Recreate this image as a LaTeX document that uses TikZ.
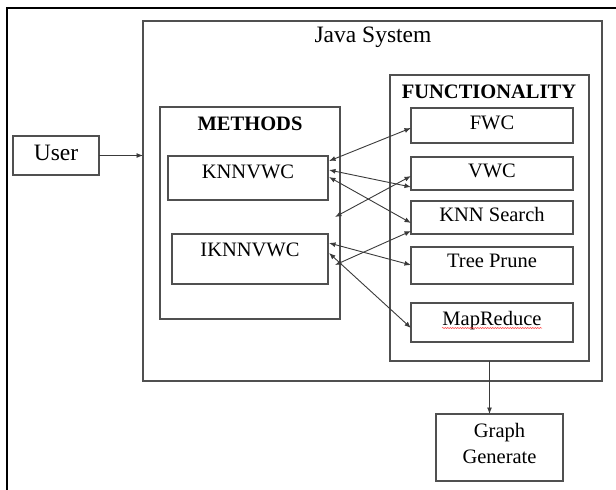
\documentclass[tikz,border=0pt]{standalone}
\usepackage{fontspec}
\setmainfont{Liberation Serif}
\usetikzlibrary{arrows.meta,decorations.pathmorphing}
\definecolor{boxgray}{HTML}{505050}
\definecolor{arrgray}{HTML}{3A3A3A}
\begin{document}
\begin{tikzpicture}[x=1pt,y=-1pt,
  box/.style={draw=boxgray, line width=1.2pt, inner sep=0pt, outer sep=0pt},
  lbl/.style={anchor=base, inner sep=0pt, text=black, font=\fontsize{20.5}{24}\selectfont},
  bigl/.style={lbl, font=\fontsize{23.5}{28}\selectfont},
  boldl/.style={lbl, font=\fontsize{20.5}{24}\selectfont\bfseries},
  conn/.style={draw=arrgray, line width=0.9pt, {Latex[length=6.5pt,width=5pt]}-{Latex[length=6.5pt,width=5pt]}},
  oneway/.style={draw=arrgray, line width=0.9pt, -{Latex[length=6.5pt,width=5pt]}}]
\useasboundingbox (0,0) rectangle (616,490);
% outer frame
\draw[line width=2pt, line cap=rect] (7,490) -- (7,8) -- (616,8);
% boxes
\node[box, minimum width=459pt, minimum height=360pt] (java) at (372.5,201) {};
\node[box, minimum width=180pt, minimum height=212pt] (methods) at (250,213) {};
\node[box, minimum width=160pt, minimum height=44pt] (knn) at (248,178) {};
\node[box, minimum width=156pt, minimum height=50pt] (iknn) at (250,259) {};
\node[box, minimum width=199pt, minimum height=286pt] (func) at (489.5,218) {};
\node[box, minimum width=162pt, minimum height=35pt] (fwc) at (492,125.5) {};
\node[box, minimum width=162pt, minimum height=33pt] (vwc) at (492,173.5) {};
\node[box, minimum width=162pt, minimum height=33pt] (knns) at (492,217.5) {};
\node[box, minimum width=162pt, minimum height=37pt] (tree) at (492,265.5) {};
\node[box, minimum width=162pt, minimum height=39pt] (mapr) at (492,322.5) {};
\node[box, minimum width=127pt, minimum height=67pt] (graph) at (499.5,447.5) {};
\node[box, minimum width=86pt, minimum height=39pt] (user) at (56,155.5) {};
% labels
\node[bigl] (tjava) at (373,42) {Java System};
\node[boldl] (tmethods) at (250,130) {METHODS};
\node[lbl] (tknn) at (248,178) {KNNVWC};
\node[lbl] (tiknn) at (250,256) {IKNNVWC};
\node[boldl] (tfunc) at (489,98) {FUNCTIONALITY};
\node[lbl] (tfwc) at (492,129) {FWC};
\node[lbl] (tvwc) at (492,177) {VWC};
\node[lbl] (tknns) at (492,221) {KNN Search};
\node[lbl] (ttree) at (492,267) {Tree Prune};
\node[lbl] (tmapr) at (492,325) {MapReduce};
\node[lbl] (tgraph1) at (499.5,437) {Graph};
\node[lbl] (tgraph2) at (499.5,463) {Generate};
\node[bigl] (tuser) at (56,160) {User};
% spell-check squiggle
\draw[red!80!white, line width=0.5pt, decorate, decoration={snake, amplitude=0.6pt, segment length=2.5pt}] (442,328) -- (542,328);
% free ends
\coordinate (f1) at (335,217);
\coordinate (f2) at (335,265);
% connectors
\draw[oneway] (user.east) -- (user.east -| java.west);
\draw[conn] ([xshift=1pt,yshift=-5pt]knn.north east) -- ([yshift=-20pt]fwc.north west);
\draw[conn] ([xshift=1pt,yshift=-14pt]knn.north east) -- ([yshift=-30pt]vwc.north west);
\draw[conn] ([xshift=1pt,yshift=-21pt]knn.north east) -- ([yshift=-22pt]knns.north west);
\draw[conn] (f1) -- ([yshift=-19pt]vwc.north west);
\draw[conn] ([xshift=1pt,yshift=-9pt]iknn.north east) -- ([yshift=-18pt]tree.north west);
\draw[conn] ([xshift=1pt,yshift=-19pt]iknn.north east) -- ([yshift=-25pt]mapr.north west);
\draw[conn] (f2) -- ([yshift=-30pt]knns.north west);
\draw[oneway] (func.south) -- (func.south |- graph.north);
\end{tikzpicture}
\end{document}
